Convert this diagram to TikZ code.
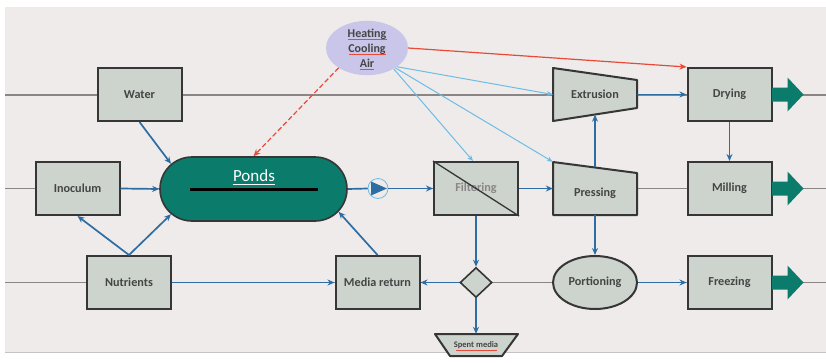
\documentclass[tikz,border=0pt]{standalone}
\usepackage{fontspec}
\setmainfont{Carlito}
\usetikzlibrary{arrows.meta,shapes.geometric,shapes.misc,calc}
\definecolor{bg}{HTML}{EEEBEA}
\definecolor{boxfill}{HTML}{CDD3CD}
\definecolor{boxline}{HTML}{363636}
\definecolor{rail}{HTML}{8A8686}
\definecolor{flow}{HTML}{2E6DA4}
\definecolor{pondteal}{HTML}{0B7B6B}
\definecolor{lav}{HTML}{C9C6EA}
\definecolor{util}{HTML}{6CBDE6}
\definecolor{hot}{HTML}{E84A3A}
\definecolor{txt}{HTML}{454545}
\begin{document}
\begin{tikzpicture}[x=1pt,y=-1pt,
  lbl/.style={font=\bfseries\fontsize{12.2}{14}\selectfont, text=txt},
  box/.style={lbl, draw=boxline, line width=2pt, fill=boxfill, minimum width=84pt, minimum height=53pt, inner sep=0pt},
  ghost/.style={lbl, minimum width=84pt, minimum height=53pt, inner sep=0pt},
  shapefill/.style={draw=boxline, line width=2pt, fill=boxfill, line join=round},
  railline/.style={draw=rail, line width=1.6pt},
  flowarrow/.style={draw=flow, line width=1.7pt, -{Stealth[length=7pt,width=6pt]}},
  flowline/.style={draw=flow, line width=1.7pt},
  utilarrow/.style={draw=util, line width=1pt, -{Stealth[length=6pt,width=5pt]}},
  hotarrow/.style={draw=hot, line width=1.2pt, -{Stealth[length=7pt,width=6pt]}},
  outarrow/.style={fill=pondteal}
]
\useasboundingbox (0,0) rectangle (826,362);
\fill[bg] (5,7) rectangle (826,352);
\draw[rail!50, line width=1pt] (5,352.5) -- (826,352.5);

% rails
\coordinate (r1l) at (5,95);   \coordinate (r1r) at (826,95);
\coordinate (r2l) at (5,188.5); \coordinate (r2r) at (826,188.5);
\coordinate (r3l) at (5,282.5); \coordinate (r3r) at (826,282.5);
\draw[railline] (r1l) -- (r1r);
\draw[railline] (r2l) -- (r2r);
\draw[railline] (r3l) -- (r3r);

% boxes
\node[box] (water) at (139.5,94.5) {Water};
\node[box] (inoc) at (77.5,188.5) {Inoculum};
\node[box] (nutr) at (129,282.5) {Nutrients};
\node[box] (media) at (377.5,282.5) {Media return};
\node[box, text=rail] (filt) at (476,188.5) {Filtering};
\draw[boxline, line width=1.3pt] (filt.north west) -- (filt.south east);
\node[box] (dry) at (729.5,94.5) {Drying};
\node[box] (mill) at (729.5,188.5) {Milling};
\node[box] (freeze) at (729.5,282.5) {Freezing};

% extrusion and pressing
\filldraw[shapefill] (553,68) -- (637,80) -- (637,108) -- (553,121) -- cycle;
\node[ghost] (ext) at (595,94.5) {Extrusion};
\filldraw[shapefill] (553,162) -- (637,173) -- (637,215) -- (553,215) -- cycle;
\node[ghost] (press) at (595,188.5) {};
\node[lbl] (presslbl) at (595,193) {Pressing};

% portioning, diamond, spent media
\node[lbl, ellipse, draw=boxline, line width=2pt, fill=boxfill, minimum width=84pt, minimum height=53pt, inner sep=0pt] (port) at (595,282.5) {Portioning};
\node[diamond, draw=boxline, line width=1.6pt, fill=boxfill, minimum width=32pt, minimum height=30pt, inner sep=0pt] (dia) at (476,282.5) {};
\filldraw[shapefill] (435,334) -- (518,334) -- (502,356) -- (450,356) -- cycle;
\node[minimum width=83pt, minimum height=22pt, inner sep=0pt, text=txt, font=\bfseries\fontsize{8.5}{10}\selectfont] (spent) at (476,345) {Spent media};
\draw[hot, line width=0.6pt] (456,350) -- (497,350);

% ponds
\node[rounded rectangle, fill=pondteal, draw=boxline, line width=1.6pt, minimum width=187pt, minimum height=64pt, inner sep=0pt] (ponds) at (253.5,189) {};
\draw[black, line width=3pt] ($(ponds.center)+(-63.5,0)$) -- ($(ponds.center)+(64.5,0)$);
\node[text=white, font=\fontsize{17}{19}\selectfont] (pondslbl) at (254,176) {Ponds};
\draw[white, line width=1pt] ($(pondslbl.south west)+(3,-1)$) -- ($(pondslbl.south east)+(-3,-1)$);

% pump
\node[circle, draw=util, line width=0.8pt, fill=bg, minimum size=20pt, inner sep=0pt] (pump) at (378,188.5) {};
\fill[flow] (371,181.5) -- (387,188.5) -- (371,195.5) -- cycle;

% utilities
\node[ellipse, fill=lav, minimum width=82pt, minimum height=50pt, inner sep=0pt, align=center, text=txt, font=\bfseries\fontsize{12}{15}\selectfont] (heat) at (367,48) {Heating\\Cooling\\Air};
\draw[hot, line width=0.6pt] (348,39) -- (387,39);
\draw[hot, line width=0.6pt] (349,54) -- (386,54);
\draw[hot, line width=0.6pt] (360,69) -- (374,69);

% green outputs
\foreach \b in {dry,mill,freeze} {
  \fill[outarrow] ($(\b.east)+(-0.5,-7)$) -- ($(\b.east)+(15,-7)$) -- ($(\b.east)+(15,-17)$) -- ($(\b.east)+(31,0)$) -- ($(\b.east)+(15,17)$) -- ($(\b.east)+(15,7)$) -- ($(\b.east)+(-0.5,7)$) -- cycle;
}

% flows
\draw[flowarrow] (water.south) -- (ponds.163);
\draw[flowarrow] (inoc.east) -- (ponds.west);
\draw[flowarrow] (nutr.north) -- (inoc.south);
\draw[flowarrow] (nutr.north) -- (ponds.197);
\draw[flowarrow] (media.north) -- (ponds.-15);
\draw[flowarrow] (nutr.east) -- (media.west);
\draw[flowline] (ponds.east) -- (pump.west);
\draw[flowarrow] (pump.east) -- (filt.west);
\draw[flowarrow] (filt.east) -- (press.west);
\draw[flowarrow] ($(press.north)+(0,5.5)$) -- ($(ext.south)+(0,-6.5)$);
\draw[flowarrow] (ext.east) -- (dry.west);
\draw[flowarrow] (dry.south) -- (mill.north);
\draw[flowarrow] (filt.south) -- (dia.north);
\draw[flowarrow] (press.south) -- (port.north);
\draw[flowarrow] (dia.west) -- (media.east);
\draw[flowarrow] (dia.south) -- (spent.north);
\draw[flowarrow] (port.east) -- (freeze.west);

% utility connectors
\draw[hotarrow, dashed, dash pattern=on 5pt off 2.5pt] (heat.-145) -- (ponds.north);
\draw[hotarrow] (heat.east) -- (dry.north west);
\draw[utilarrow] (heat.-32) -- (ext.west);
\draw[utilarrow] (heat.-38) -- ([xshift=-3pt]filt.north);
\draw[utilarrow] (heat.-35) -- (press.north west);
\end{tikzpicture}
\end{document}
